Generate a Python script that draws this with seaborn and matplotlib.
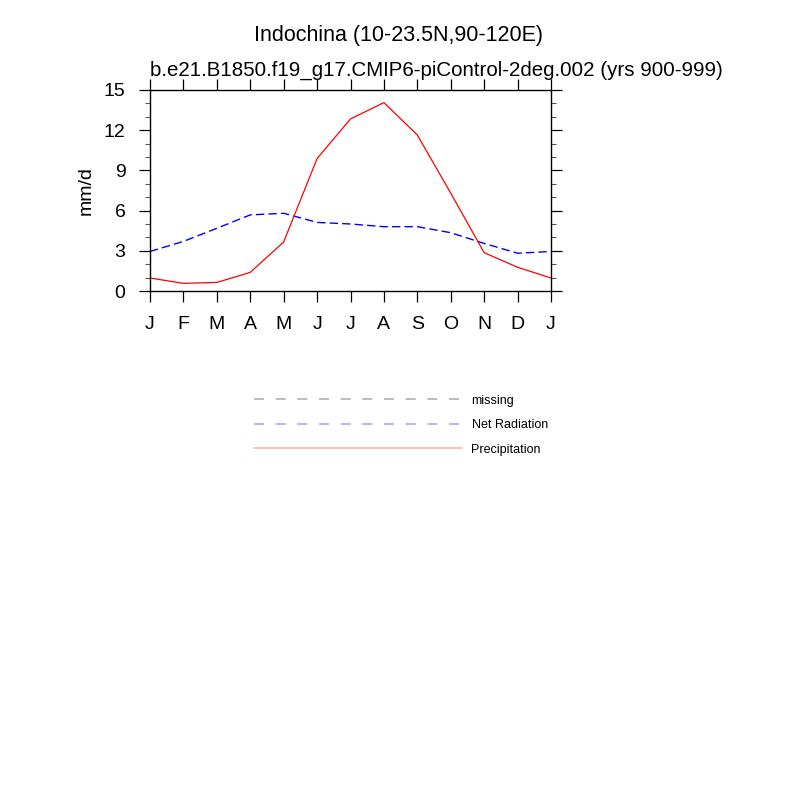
import matplotlib
matplotlib.use("Agg")
import matplotlib.pyplot as plt
from matplotlib.lines import Line2D
from matplotlib.ticker import MultipleLocator
import pandas as pd
import seaborn as sns

# monthly climatology, Jan repeated at the end
month_pos = list(range(13))
month_labels = ["J", "F", "M", "A", "M", "J", "J", "A", "S", "O", "N", "D", "J"]
precip = [0.97, 0.57, 0.64, 1.39, 3.66, 9.88, 12.84, 14.06, 11.64, 7.3, 2.86, 1.77, 0.97]
net_rad = [2.95, 3.7, 4.68, 5.68, 5.8, 5.12, 5.0, 4.8, 4.8, 4.35, 3.55, 2.82, 2.95]

legend_labels = ["missing", "Net Radiation", "Precipitation"]

sns.set_style("ticks")
plt.rcParams["font.family"] = ["Liberation Sans", "DejaVu Sans"]
plt.rcParams["text.color"] = "black"
plt.rcParams["axes.labelcolor"] = "black"
plt.rcParams["xtick.color"] = "black"
plt.rcParams["ytick.color"] = "black"

df = pd.DataFrame({"month": month_pos, "precip": precip, "netrad": net_rad})

fig = plt.figure(figsize=(8, 8), dpi=100)
ax = fig.add_axes([0.1875, 0.63625, 0.50125, 0.25125])

sns.lineplot(data=df, x="month", y="netrad", ax=ax, color="blue", linewidth=1.0)
ax.lines[-1].set_dashes([6, 3])
sns.lineplot(data=df, x="month", y="precip", ax=ax, color="red", linewidth=0.9)

ax.set_xlim(0, 12)
ax.set_ylim(0, 15)
ax.set_xticks(month_pos)
ax.set_xticklabels(month_labels)
ax.yaxis.set_major_locator(MultipleLocator(3))
ax.yaxis.set_minor_locator(MultipleLocator(1))

ax.tick_params(axis="both", which="major", direction="out", length=7.7, width=0.9,
               color="black", labelcolor="black", labelsize=14, top=True, right=True,
               labeltop=False, labelright=False)
ax.tick_params(axis="x", which="major", pad=10)
ax.tick_params(axis="y", which="major", pad=10)
ax.tick_params(axis="y", which="minor", direction="out", length=3.6, width=0.8,
               color="#555555", left=True, right=True)
for sp in ax.spines.values():
    sp.set_visible(True)
    sp.set_linewidth(1.0)
    sp.set_color("black")

ax.set_xlabel("")
ax.set_ylabel("mm/d", fontsize=14, color="black")
ax.yaxis.set_label_coords(-0.137, 0.5)

fig.text(0.49875, 1 - 41 / 800, "Indochina (10-23.5N,90-120E)", ha="center",
         va="baseline", fontsize=15.5, color="black")
fig.text(0.1875, 1 - 76 / 800,
         "b.e21.B1850.f19_g17.CMIP6-piControl-2deg.002 (yrs 900-999)",
         ha="left", va="baseline", fontsize=14.8, color="black")

handles = [
    Line2D([], [], color="#b0b0b0", linewidth=1.2, dashes=(6, 7)),
    Line2D([], [], color="#a8a8ff", linewidth=1.2, dashes=(6, 7)),
    Line2D([], [], color="#ffb0b0", linewidth=1.2),
]
fig.legend(handles, legend_labels, loc="upper left", bbox_to_anchor=(0.3175, 0.5065),
           frameon=False, fontsize=9, handlelength=16.6, handletextpad=0.8,
           labelspacing=1.0, borderpad=0, borderaxespad=0, labelcolor="black")

fig.savefig("out.png", dpi=100)
